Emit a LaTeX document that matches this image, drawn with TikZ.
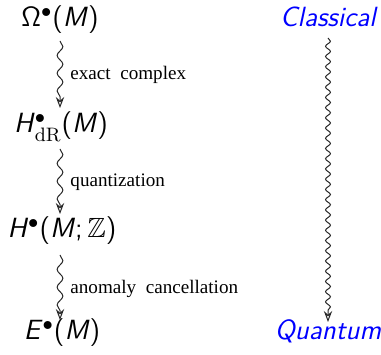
\documentclass[tikz,border=0pt]{standalone}
\usepackage{amssymb}
\usepackage{fontspec}
\newfontfamily\labfont{Liberation Serif}
\usetikzlibrary{decorations.pathmorphing,arrows.meta}
\definecolor{qblue}{RGB}{0,0,255}
\newcommand{\mainsz}{\fontsize{12.5}{15}\selectfont}
\newcommand{\labsz}{\fontsize{8.6}{10}\selectfont}
\begin{document}
\begin{tikzpicture}[x=0.45pt,y=-0.45pt,
  obj/.style={anchor=base,inner sep=0pt,font=\mainsz\sffamily},
  tag/.style={anchor=base,inner sep=0pt,font=\mainsz\sffamily\itshape,text=qblue},
  lab/.style={anchor=base west,inner sep=0pt,font=\labsz\labfont},
  sqbase/.style={draw=black!85,line width=0.45pt,decorate,
    -{Stealth[open,length=5pt,width=3.8pt,inset=1.8pt]}},
  sq/.style={sqbase,decoration={snake,amplitude=1.3pt,segment length=8pt,post length=3.5pt}},
  sqlong/.style={sqbase,decoration={snake,amplitude=1.1pt,segment length=4.6pt,post length=3.5pt}}]
\useasboundingbox (0,0) rectangle (381,355);
\node[obj] (om) at (60,27) {Ω$^{\bullet}$(\textit{M})};
\node[obj] (hdr) at (61,133) {\textit{H}$^{\bullet}_{\mathrm{dR}}$(\textit{M})};
\node[obj] (hz) at (62,238) {\textit{H}$^{\bullet}$(\textit{M};\,$\mathbb{Z}$)};
\node[obj] (e) at (62,340) {\textit{E}$^{\bullet}$(\textit{M})};
\node[tag] (cl) at (328,27) {Classical};
\node[tag] (qu) at (328,340) {Quantum};
\coordinate (a1s) at (60,41); \coordinate (a1e) at (60,108);
\coordinate (a2s) at (60,149); \coordinate (a2e) at (60,214);
\coordinate (a3s) at (60,255); \coordinate (a3e) at (60,320);
\coordinate (r1s) at (328,38); \coordinate (r1e) at (328,322);
\draw[sq] (a1s) -- (a1e);
\draw[sq] (a2s) -- (a2e);
\draw[sq] (a3s) -- (a3e);
\draw[sqlong] (r1s) -- (r1e);
\node[lab] (l1) at (70,80) {exact\ \ complex};
\node[lab] (l2) at (70,187) {quantization};
\node[lab] (l3) at (70,294) {anomaly\ \ cancellation};
\end{tikzpicture}
\end{document}
